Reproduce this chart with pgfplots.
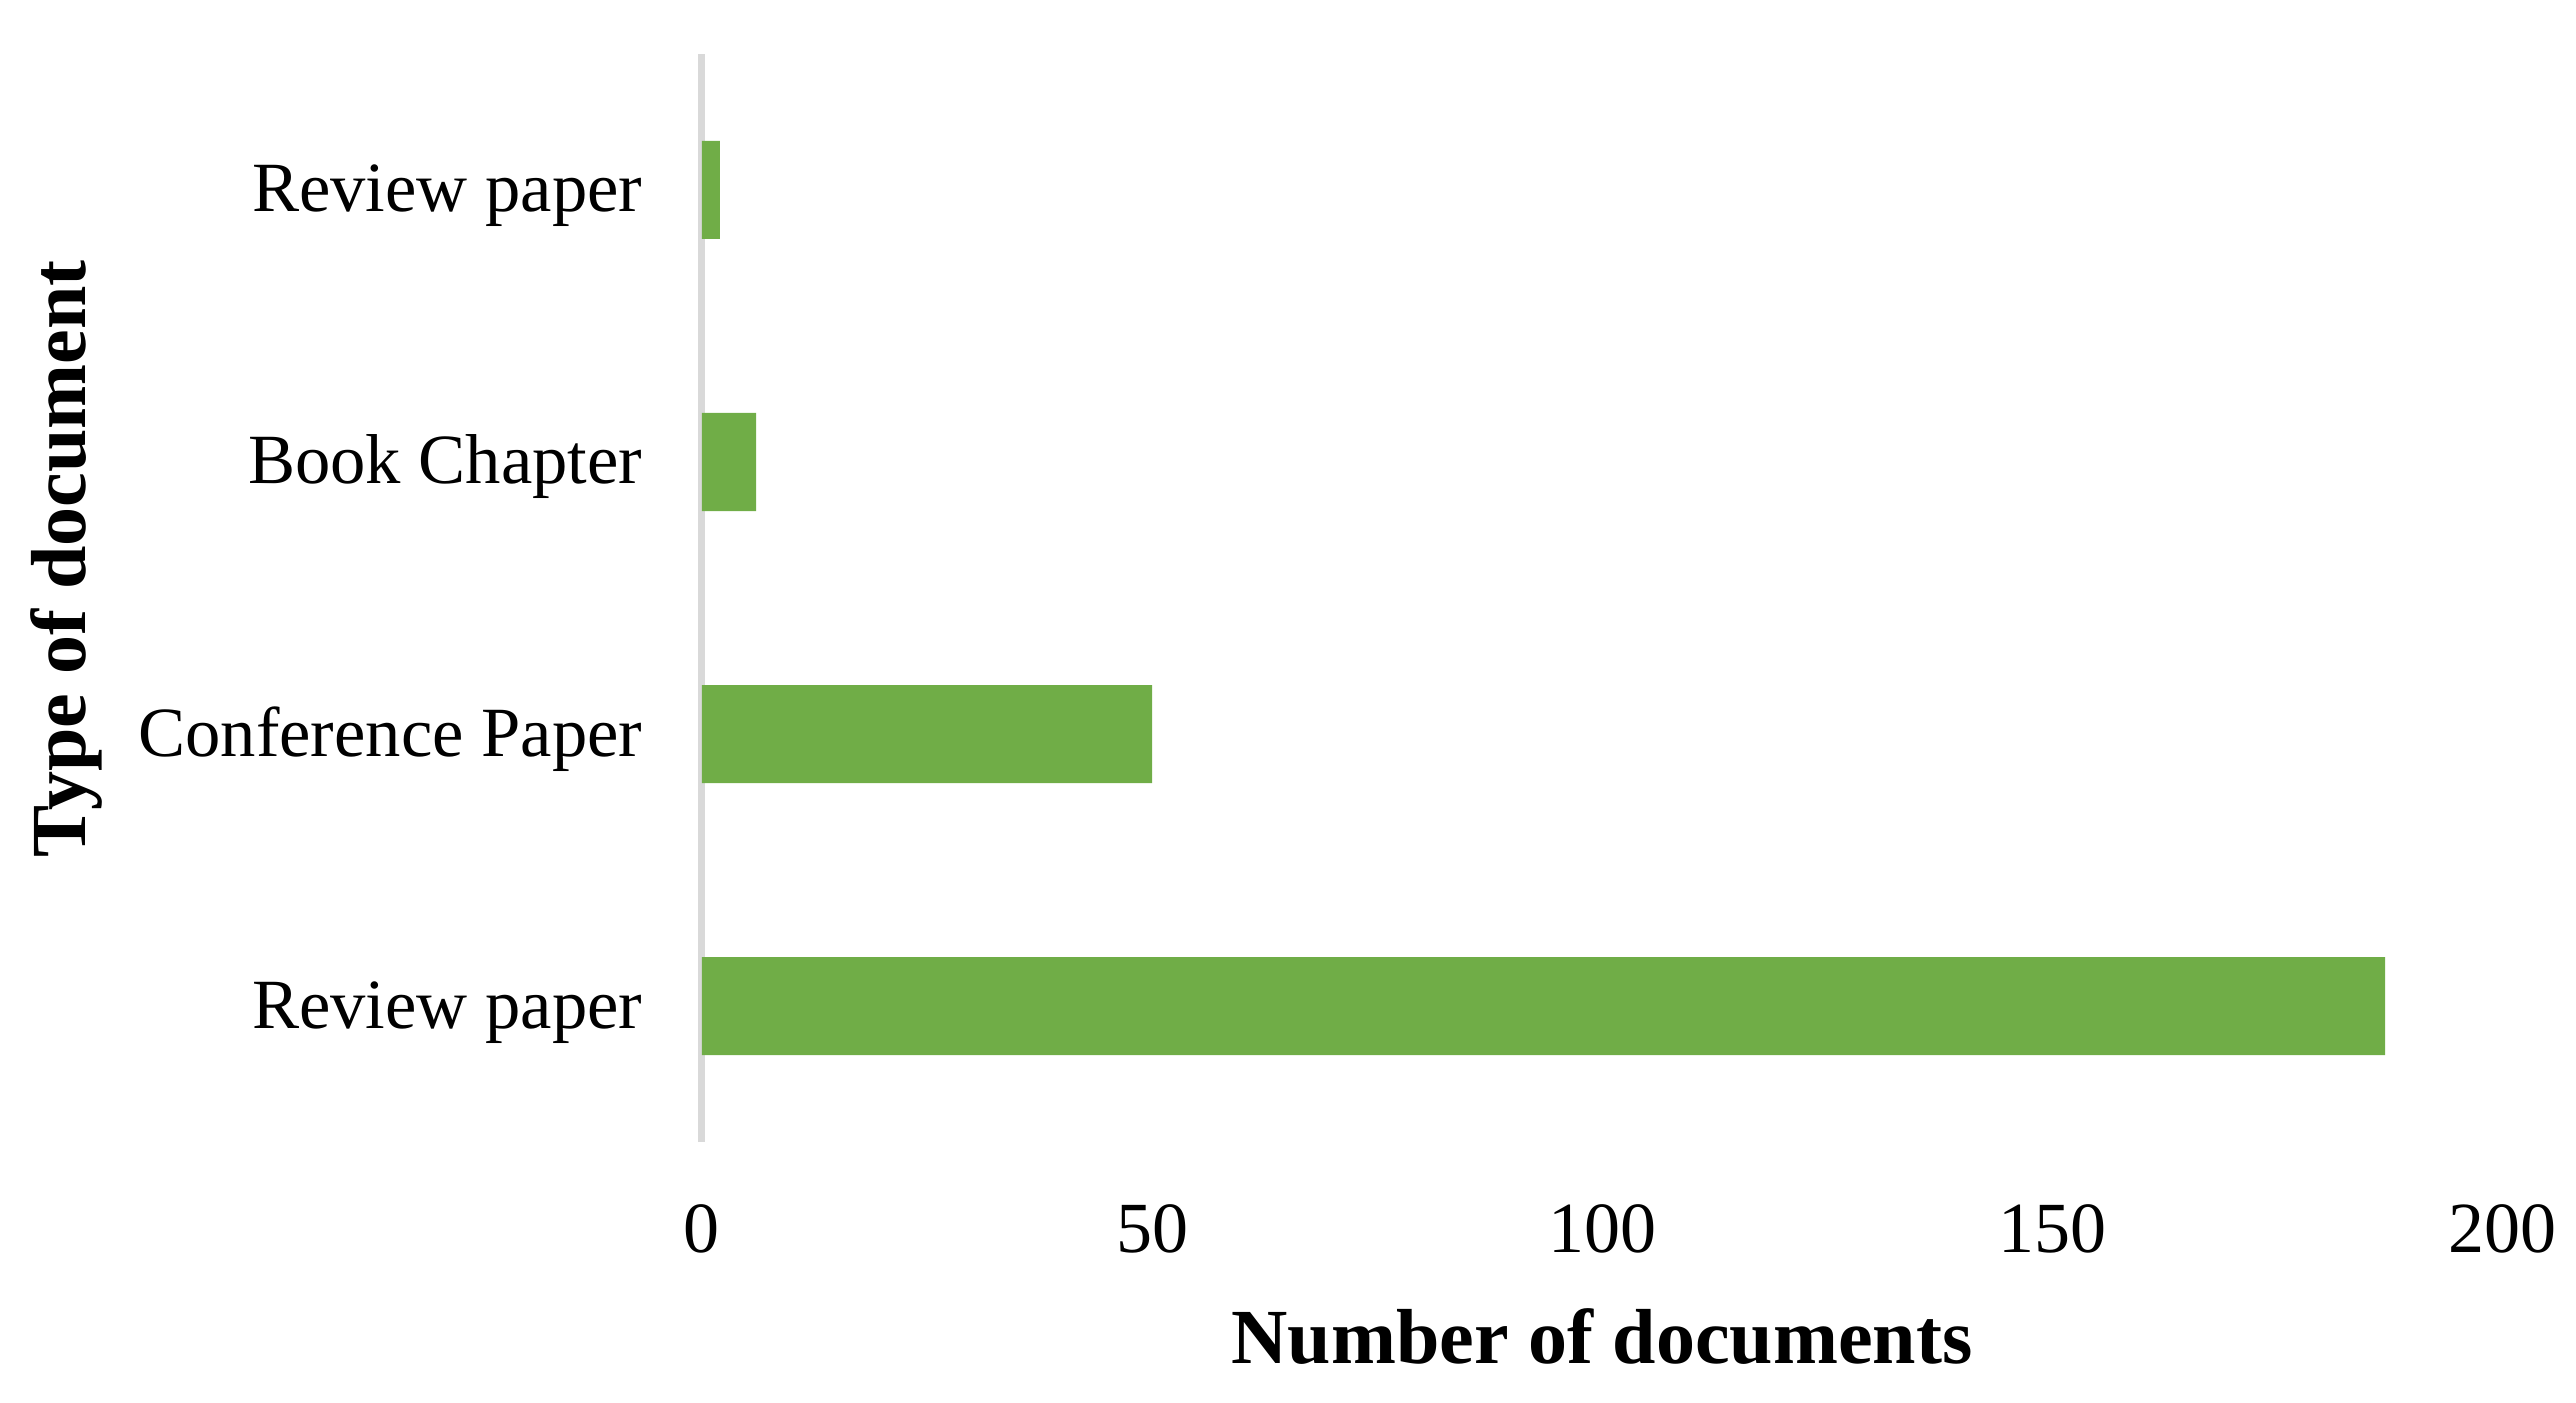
\documentclass[border=0pt]{standalone}
\usepackage{pgfplots}
\pgfplotsset{compat=1.18}
\usepackage{fontspec}
\setmainfont{Liberation Serif}
\definecolor{barg}{HTML}{70AD47}
\definecolor{axg}{HTML}{D9D9D9}
\begin{document}
\begin{tikzpicture}
\useasboundingbox (-175.5pt,-65pt) rectangle (468.5pt,285.5pt);
\begin{axis}[
  at={(0,0)}, anchor=south west,
  scale only axis,
  width=450pt, height=272pt,
  xbar, bar width=24.5pt,
  xmin=0, xmax=200, ymin=-0.5, ymax=3.5,
  xtick={0,50,100,150,200},
  ytick={0,1,2,3},
  yticklabels={Review paper,Conference Paper,Book Chapter,Review paper},
  major tick length=0pt,
  /pgf/number format/assume math mode=true,
  separate axis lines,
  axis x line=bottom, axis y line=left,
  x axis line style={draw=none},
  y axis line style={draw=axg, line width=1.75pt, -},
  tick label style={inner sep=0pt},
  x tick label style={font=\fontsize{18}{20}\selectfont, anchor=base, yshift=-27.5pt},
  y tick label style={font=\fontsize{17.65}{20}\selectfont, anchor=base east, yshift=-5.5pt, xshift=-14.75pt},
  xlabel={\textbf{Number of documents}},
  ylabel={\textbf{Type of document}},
  label style={font=\fontsize{19.5}{22}\selectfont, inner sep=0pt},
  xlabel style={at={(axis description cs:0.5,0)}, anchor=base, yshift=-55.25pt},
  ylabel style={at={(axis description cs:-0.35333,0.536)}, anchor=center},
]
\addplot[fill=barg, draw=none] coordinates {(187,0) (50,1) (6,2) (2,3)};
\end{axis}
\end{tikzpicture}
\end{document}
